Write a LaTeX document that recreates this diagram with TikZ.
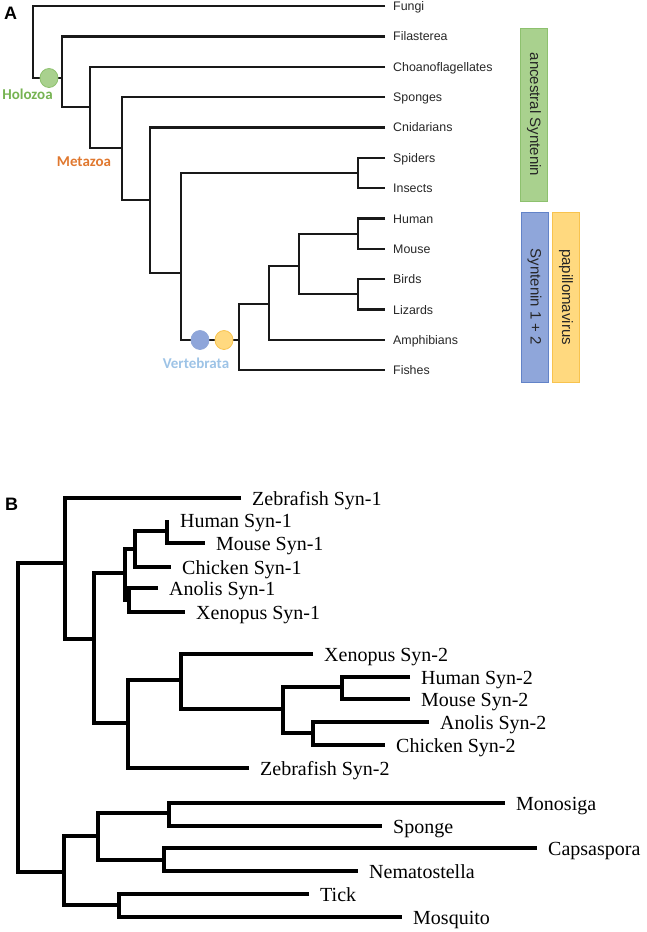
\documentclass[tikz,border=0pt]{standalone}
\usepackage{fontspec}
\usetikzlibrary{shapes.geometric}
\setmainfont{Liberation Serif}
\newfontfamily\arialf{Liberation Sans}
\newfontfamily\calf{Carlito}
\definecolor{gfill}{HTML}{A9D18E}
\definecolor{gdraw}{HTML}{8DC16E}
\definecolor{bfill}{HTML}{8FA6DA}
\definecolor{bdraw}{HTML}{6283C8}
\definecolor{yfill}{HTML}{FFD97F}
\definecolor{ydraw}{HTML}{F8C34E}
\definecolor{holo}{HTML}{76B352}
\definecolor{meta}{HTML}{E0782F}
\definecolor{vert}{HTML}{9DC3E6}
\begin{document}
\begin{tikzpicture}[x=1pt,y=-1pt,
  treeA/.style={line width=2.2pt, draw=black!90},
  treeB/.style={line width=3.2pt, draw=black},
  labA/.style={font=\arialf\fontsize{12.4}{14}\selectfont, anchor=base west, inner sep=0pt, text=black!85},
  labB/.style={font=\fontsize{20}{22}\selectfont, anchor=base west, inner sep=0pt},
  panel/.style={font=\arialf\bfseries\fontsize{18}{20}\selectfont, inner sep=0pt},
  clade/.style={font=\calf\bfseries\fontsize{15}{17}\selectfont, inner sep=0pt},
  barbox/.style={rotate=-90, line width=1pt, inner sep=0pt, minimum height=27pt,
     font=\arialf\fontsize{15}{17}\selectfont, text=black!85},
  dotc/.style={ellipse, line width=0.8pt, inner sep=0pt, minimum width=18pt, minimum height=19pt}
]
\useasboundingbox (0,0) rectangle (646,932);

% ---------------- Panel A ----------------
\node[panel] (pA) at (10.5,13.5) {A};

\coordinate (a0) at (33,78);
\coordinate (a1) at (62,78);
\coordinate (a2) at (90,107);
\coordinate (a3) at (122,148);
\coordinate (a4) at (150,200);
\coordinate (a5) at (181,273);
\coordinate (a6) at (358,173);
\coordinate (a7) at (239,340);
\coordinate (a8) at (269,304);
\coordinate (a9) at (299,266);
\coordinate (a10) at (358,234);
\coordinate (a11) at (358,294);

\coordinate (Lfun) at (385,6);
\coordinate (Lfil) at (385,36.4);
\coordinate (Lcho) at (385,66.7);
\coordinate (Lspo) at (385,97);
\coordinate (Lcni) at (385,127.4);
\coordinate (Lspi) at (385,157.8);
\coordinate (Lins) at (385,188.1);
\coordinate (Lhum) at (385,218.5);
\coordinate (Lmou) at (385,248.8);
\coordinate (Lbir) at (385,279.2);
\coordinate (Lliz) at (385,309.5);
\coordinate (Lamp) at (385,339.9);
\coordinate (Lfis) at (385,370.2);

\draw[treeA] (Lfun) -| (a0) -- (a1);
\draw[treeA] (Lfil) -| (a1) |- (a2);
\draw[treeA] (Lcho) -| (a2) |- (a3);
\draw[treeA] (Lspo) -| (a3) |- (a4);
\draw[treeA] (Lcni) -| (a4) |- (a5);
\draw[treeA] (a6) -| (a5) |- (a7);
\draw[treeA] (Lspi) -| (a6) |- (Lins);
\draw[treeA] (a8) -| (a7) |- (Lfis);
\draw[treeA] (a9) -| (a8) |- (Lamp);
\draw[treeA] (a10) -| (a9) |- (a11);
\draw[treeA] (Lhum) -| (a10) |- (Lmou);
\draw[treeA] (Lbir) -| (a11) |- (Lliz);

\foreach \n/\t in {fun/Fungi, fil/Filasterea, cho/Choanoflagellates, spo/Sponges, cni/Cnidarians,
  spi/Spiders, ins/Insects, hum/Human, mou/Mouse, bir/Birds, liz/Lizards, amp/Amphibians, fis/Fishes}
  \node[labA] (t\n) at ([xshift=8pt,yshift=-4.5pt]L\n) {\t};

\node[dotc, fill=gfill, draw=gdraw] (cg) at (49,78) {};
\node[dotc, fill=bfill, draw=bdraw!70] (cb) at (200,340) {};
\node[dotc, fill=yfill, draw=ydraw] (cy) at (224,340) {};

\node[clade, text=holo] (holozoa) at (27.5,94) {Holozoa};
\node[clade, text=meta] (metazoa) at (84,161.5) {Metazoa};
\node[clade, text=vert] (vertebrata) at (196,363) {Vertebrata};

\node[barbox, fill=gfill, draw=gdraw, minimum width=173pt] (anc) at (534,114.5) {ancestral Syntenin};
\node[barbox, fill=bfill, draw=bdraw, minimum width=170pt] (syn) at (534.5,297) {Syntenin 1 + 2};
\node[barbox, fill=yfill, draw=ydraw, minimum width=170pt] (pap) at (566,297) {papillomavirus};

% ---------------- Panel B ----------------
\node[panel] (pB) at (11.5,504.5) {B};

\coordinate (b0) at (18,872);
\coordinate (b1) at (65,563);
\coordinate (b2) at (94,639);
\coordinate (b3) at (125,573);
\coordinate (b4) at (128,723);
\coordinate (b5) at (135,549);
\coordinate (b6) at (129,600);
\coordinate (b7) at (167,531);
\coordinate (b8) at (181,680);
\coordinate (b9) at (283,709);
\coordinate (b10) at (342,687);
\coordinate (b11) at (313,733);
\coordinate (bU) at (64,872);
\coordinate (b12) at (98,836);
\coordinate (b13) at (119,905);
\coordinate (b14) at (169,813);
\coordinate (b15) at (164,860);

\coordinate (Mzf1) at (241,498);
\coordinate (Mhu1) at (167,520);
\coordinate (Mmo1) at (205,543);
\coordinate (Mch1) at (171,567);
\coordinate (Man1) at (158,588);
\coordinate (Mxe1) at (185,612);
\coordinate (Mxe2) at (313,654);
\coordinate (Mhu2) at (410,677);
\coordinate (Mmo2) at (410,699);
\coordinate (Man2) at (429,722);
\coordinate (Mch2) at (385,745);
\coordinate (Mzf2) at (249,768);
\coordinate (Mmon) at (505,803);
\coordinate (Mspg) at (382,826);
\coordinate (Mcap) at (537,848);
\coordinate (Mnem) at (358,871);
\coordinate (Mtic) at (309,894);
\coordinate (Mmos) at (402,917);

\draw[treeB] (b1) -| (b0) -- (bU);
\draw[treeB] (Mzf1) -| (b1) |- (b2);
\draw[treeB] (b3) -| (b2) |- (b4);
\draw[treeB] (b5) -| (b3) |- (b6);
\draw[treeB] (b7) -| (b5) |- (Mch1);
\draw[treeB] (Mhu1) -- (b7) |- (Mmo1);
\draw[treeB] (Man1) -| (b6) |- (Mxe1);
\draw[treeB] (b8) -| (b4) |- (Mzf2);
\draw[treeB] (Mxe2) -| (b8) |- (b9);
\draw[treeB] (b10) -| (b9) |- (b11);
\draw[treeB] (Mhu2) -| (b10) |- (Mmo2);
\draw[treeB] (Man2) -| (b11) |- (Mch2);
\draw[treeB] (b12) -| (bU) |- (b13);
\draw[treeB] (b14) -| (b12) |- (b15);
\draw[treeB] (Mmon) -| (b14) |- (Mspg);
\draw[treeB] (Mcap) -| (b15) |- (Mnem);
\draw[treeB] (Mtic) -| (b13) |- (Mmos);

\node[labB] (uhu1) at ([xshift=13pt,yshift=-7.5pt]Mhu1) {Human Syn-1};
\foreach \n/\t in {zf1/Zebrafish Syn-1, mo1/Mouse Syn-1, ch1/Chicken Syn-1, an1/Anolis Syn-1,
  xe1/Xenopus Syn-1, xe2/Xenopus Syn-2, hu2/Human Syn-2, mo2/Mouse Syn-2, an2/Anolis Syn-2,
  ch2/Chicken Syn-2, zf2/Zebrafish Syn-2, mon/Monosiga, spg/Sponge, cap/Capsaspora,
  nem/Nematostella, tic/Tick, mos/Mosquito}
  \node[labB] (u\n) at ([xshift=11pt,yshift=-7.5pt]M\n) {\t};
\end{tikzpicture}
\end{document}
